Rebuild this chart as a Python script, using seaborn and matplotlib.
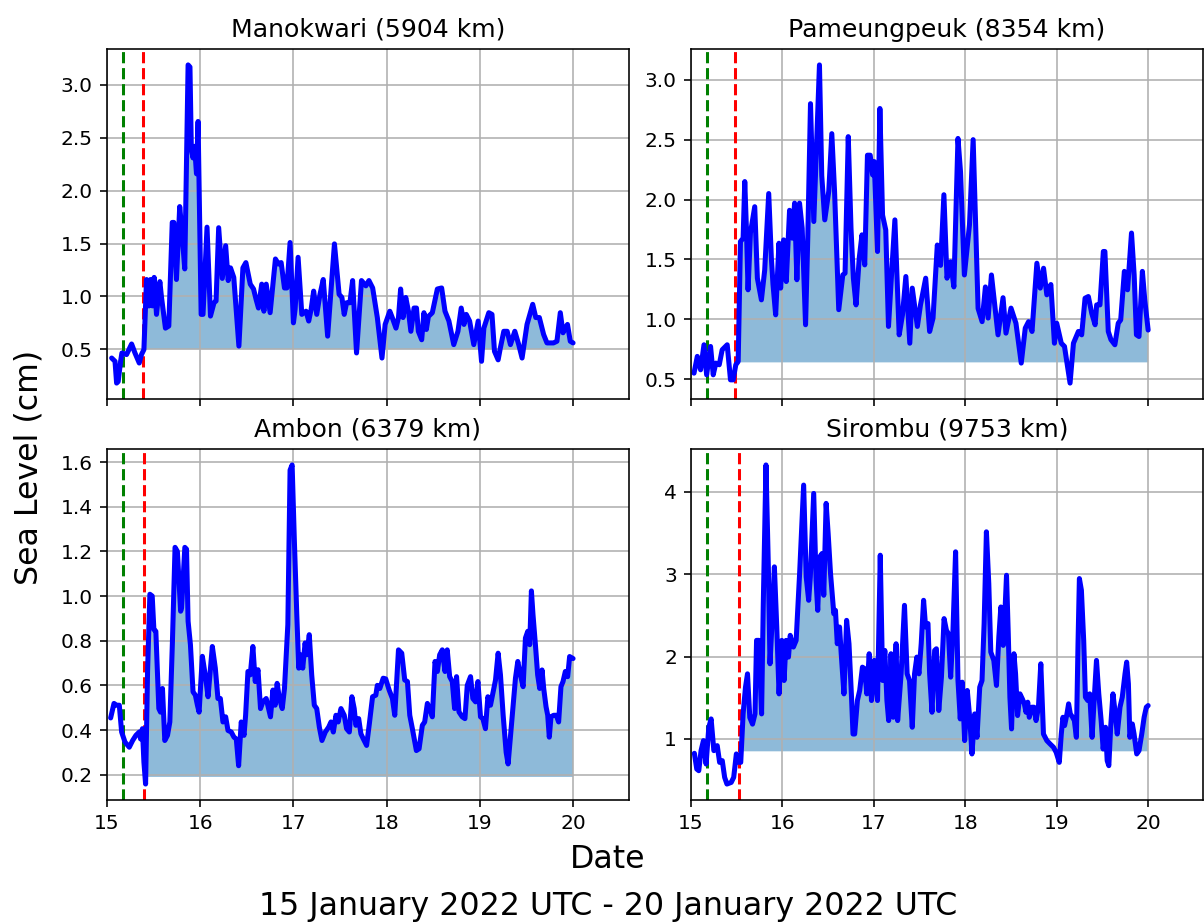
import matplotlib
matplotlib.use("Agg")
import matplotlib.pyplot as plt
import seaborn as sns
import numpy as np

# ---------------- data ----------------
stations = ["Manokwari (5904 km)", "Pameungpeuk (8354 km)", "Ambon (6379 km)", "Sirombu (9753 km)"]
eruption_time = 15.17
arrival_times = [15.39, 15.48, 15.40, 15.526]
fill_bases = [0.50, 0.64, 0.19, 0.85]
x_ticks = [15, 16, 17, 18, 19, 20]

manokwari_t = [
    15.05, 15.086, 15.103, 15.12, 15.146, 15.16, 15.21, 15.264, 15.30, 15.346,
    15.37, 15.396, 15.424, 15.45, 15.467, 15.488, 15.506, 15.531, 15.567, 15.585,
    15.627, 15.663, 15.70, 15.717, 15.745, 15.78, 15.80, 15.834, 15.87, 15.89,
    15.905, 15.923, 15.94, 15.96, 15.977, 16.01, 16.03, 16.073, 16.11, 16.148,
    16.17, 16.198, 16.237, 16.273, 16.30, 16.325, 16.36, 16.415, 16.458, 16.49,
    16.537, 16.572, 16.60, 16.625, 16.66, 16.683, 16.708, 16.75, 16.807, 16.84,
    16.868, 16.904, 16.93, 16.964, 17.0, 17.018, 17.05, 17.09, 17.135, 17.164,
    17.19, 17.217, 17.25, 17.285, 17.32, 17.367, 17.44, 17.49, 17.52, 17.545,
    17.57, 17.606, 17.635, 17.677, 17.73, 17.777, 17.81, 17.85, 17.90, 17.95,
    17.984, 18.034, 18.06, 18.10, 18.127, 18.15, 18.176, 18.205, 18.234, 18.26,
    18.294, 18.32, 18.34, 18.376, 18.40, 18.426, 18.448, 18.49, 18.544, 18.59,
    18.626, 18.668, 18.72, 18.765, 18.80, 18.83, 18.854, 18.89, 18.935, 18.982,
    19.018, 19.043, 19.096, 19.13, 19.157, 19.196, 19.22, 19.257, 19.293, 19.328,
    19.375, 19.417, 19.453, 19.506, 19.567, 19.60, 19.638, 19.684, 19.72, 19.756,
    19.79, 19.827, 19.863, 19.892, 19.917, 19.94, 19.97, 20.0]
manokwari_v = [
    0.417, 0.386, 0.18, 0.195, 0.386, 0.465, 0.45, 0.55, 0.465, 0.37,
    0.45, 0.497, 1.16, 0.91, 1.16, 0.91, 1.18, 0.83, 1.14, 0.99,
    0.70, 0.72, 1.70, 1.70, 1.16, 1.85, 1.655, 1.26, 3.19, 3.17,
    2.386, 2.31, 2.42, 2.16, 2.655, 0.83, 0.83, 1.655, 0.814, 0.94,
    0.957, 1.65, 1.17, 1.48, 1.15, 1.27, 1.18, 0.53, 1.27, 1.32,
    1.116, 1.07, 0.97, 0.89, 1.116, 0.86, 1.116, 0.846, 1.354, 1.306,
    1.32, 1.08, 1.08, 1.51, 0.75, 0.878, 1.37, 0.83, 0.86, 0.767,
    0.878, 1.05, 0.83, 1.02, 1.16, 0.624, 1.497, 1.02, 0.99, 0.83,
    0.94, 0.94, 1.15, 0.465, 1.15, 1.10, 1.15, 1.08, 0.80, 0.417,
    0.735, 0.86, 0.80, 0.70, 0.80, 1.07, 0.80, 0.99, 0.86, 0.67,
    0.89, 0.89, 0.67, 0.59, 0.846, 0.687, 0.81, 0.846, 1.07, 1.08,
    0.86, 0.767, 0.544, 0.67, 0.89, 0.735, 0.83, 0.767, 0.544, 0.767,
    0.386, 0.70, 0.846, 0.83, 0.48, 0.40, 0.513, 0.67, 0.67, 0.544,
    0.67, 0.544, 0.417, 0.735, 0.925, 0.80, 0.80, 0.64, 0.56, 0.56,
    0.56, 0.576, 0.846, 0.656, 0.70, 0.735, 0.576, 0.56]

pameungpeuk_t = [
    15.033, 15.069, 15.105, 15.142, 15.171, 15.214, 15.243, 15.272, 15.309, 15.341,
    15.396, 15.432, 15.461, 15.49, 15.516, 15.541, 15.57, 15.588, 15.606, 15.624,
    15.65, 15.697, 15.726, 15.77, 15.806, 15.85, 15.879, 15.897, 15.926, 15.962,
    15.98, 16.013, 16.042, 16.078, 16.108, 16.133, 16.158, 16.187, 16.216, 16.253,
    16.278, 16.307, 16.343, 16.405, 16.43, 16.463, 16.507, 16.54, 16.57, 16.616,
    16.66, 16.685, 16.72, 16.75, 16.776, 16.805, 16.84, 16.87, 16.9, 16.93,
    16.96, 16.986, 17.004, 17.04, 17.066, 17.095, 17.13, 17.16, 17.19, 17.23,
    17.277, 17.313, 17.35, 17.393, 17.42, 17.476, 17.51, 17.567, 17.61, 17.647,
    17.694, 17.73, 17.766, 17.80, 17.84, 17.875, 17.92, 17.948, 17.99, 18.046,
    18.086, 18.14, 18.184, 18.22, 18.25, 18.286, 18.322, 18.358, 18.413, 18.445,
    18.50, 18.554, 18.612, 18.656, 18.692, 18.73, 18.783, 18.82, 18.856, 18.892,
    18.936, 18.975, 19.0, 19.05, 19.085, 19.146, 19.183, 19.237, 19.273, 19.31,
    19.346, 19.383, 19.42, 19.437, 19.473, 19.51, 19.527, 19.564, 19.593, 19.636,
    19.673, 19.70, 19.74, 19.775, 19.818, 19.847, 19.872, 19.90, 19.937, 19.963,
    20.0]
pameungpeuk_v = [
    0.55, 0.69, 0.578, 0.787, 0.536, 0.773, 0.536, 0.634, 0.62, 0.745,
    0.787, 0.494, 0.494, 0.62, 0.647, 1.649, 1.677, 2.15, 1.76, 1.246,
    1.72, 1.94, 1.343, 1.162, 1.41, 2.05, 1.51, 1.29, 1.037, 1.635,
    1.26, 1.663, 1.315, 1.91, 1.677, 1.97, 1.33, 1.97, 1.76, 0.954,
    1.705, 2.80, 1.816, 3.124, 2.2, 1.83, 2.07, 2.55, 2.07, 1.08,
    1.37, 1.385, 2.525, 1.76, 1.343, 1.12, 1.51, 1.705, 1.454, 2.37,
    2.37, 2.206, 2.317, 1.566, 2.76, 1.87, 1.746, 0.94, 1.33, 1.83,
    0.87, 1.037, 1.357, 0.80, 1.26, 0.94, 1.12, 1.343, 0.898, 1.009,
    1.62, 1.45, 2.04, 1.343, 1.48, 1.27, 2.51, 2.23, 1.37, 1.79,
    2.50, 1.09, 0.98, 1.27, 1.01, 1.37, 1.12, 0.87, 1.18, 0.884,
    1.093, 0.967, 0.634, 0.926, 0.98, 0.898, 1.468, 1.26, 1.426, 1.204,
    1.29, 0.80, 0.967, 0.80, 0.773, 0.467, 0.80, 0.898, 0.87, 1.176,
    1.19, 1.05, 0.954, 1.12, 1.12, 1.566, 1.566, 0.898, 0.83, 0.787,
    0.967, 0.995, 1.40, 1.246, 1.72, 1.37, 0.87, 0.856, 1.40, 1.162,
    0.91]

ambon_t = [
    15.039, 15.075, 15.103, 15.132, 15.157, 15.193, 15.239, 15.275, 15.31, 15.346,
    15.36, 15.38, 15.396, 15.414, 15.435, 15.46, 15.485, 15.503, 15.524, 15.556,
    15.574, 15.595, 15.62, 15.649, 15.674, 15.702, 15.73, 15.755, 15.79, 15.80,
    15.835, 15.853, 15.87, 15.895, 15.923, 15.948, 15.97, 15.988, 16.023, 16.059,
    16.084, 16.13, 16.162, 16.19, 16.216, 16.244, 16.273, 16.298, 16.333, 16.362,
    16.387, 16.412, 16.44, 16.47, 16.487, 16.512, 16.537, 16.565, 16.59, 16.62,
    16.647, 16.672, 16.708, 16.733, 16.754, 16.78, 16.804, 16.825, 16.85, 16.88,
    16.904, 16.94, 16.964, 16.986, 17.01, 17.036, 17.057, 17.075, 17.1, 17.125,
    17.143, 17.17, 17.196, 17.224, 17.25, 17.278, 17.306, 17.342, 17.378, 17.403,
    17.428, 17.456, 17.48, 17.51, 17.545, 17.57, 17.6, 17.627, 17.652, 17.67,
    17.7, 17.724, 17.75, 17.785, 17.815, 17.849, 17.884, 17.9, 17.927, 17.963,
    17.99, 18.027, 18.062, 18.087, 18.127, 18.162, 18.194, 18.223, 18.248, 18.276,
    18.319, 18.348, 18.383, 18.408, 18.437, 18.462, 18.49, 18.519, 18.544, 18.569,
    18.597, 18.626, 18.65, 18.676, 18.704, 18.729, 18.75, 18.776, 18.811, 18.84,
    18.865, 18.9, 18.925, 18.954, 18.979, 19.007, 19.032, 19.06, 19.086, 19.114,
    19.139, 19.168, 19.196, 19.221, 19.25, 19.282, 19.303, 19.328, 19.357, 19.382,
    19.407, 19.435, 19.464, 19.489, 19.514, 19.535, 19.553, 19.57, 19.596, 19.62,
    19.642, 19.667, 19.685, 19.71, 19.728, 19.745, 19.763, 19.792, 19.82, 19.845,
    19.87, 19.892, 19.917, 19.942, 19.963, 20.0]
ambon_v = [
    0.454, 0.519, 0.511, 0.511, 0.391, 0.346, 0.323, 0.353, 0.376, 0.391,
    0.36, 0.406, 0.256, 0.158, 0.66, 1.008, 1.0, 0.85, 0.842, 0.496,
    0.48, 0.586, 0.353, 0.376, 0.436, 0.797, 1.218, 1.20, 0.932, 0.947,
    1.218, 1.21, 0.887, 0.782, 0.571, 0.556, 0.511, 0.48, 0.73, 0.632,
    0.549, 0.774, 0.677, 0.541, 0.541, 0.436, 0.459, 0.398, 0.391, 0.368,
    0.36, 0.24, 0.436, 0.376, 0.466, 0.662, 0.647, 0.774, 0.617, 0.67,
    0.496, 0.526, 0.541, 0.496, 0.459, 0.579, 0.511, 0.609, 0.541, 0.496,
    0.586, 0.872, 1.564, 1.587, 1.248, 0.917, 0.677, 0.737, 0.677, 0.79,
    0.737, 0.827, 0.647, 0.511, 0.496, 0.413, 0.353, 0.391, 0.413, 0.436,
    0.391, 0.466, 0.436, 0.496, 0.466, 0.406, 0.391, 0.549, 0.496, 0.421,
    0.451, 0.383, 0.36, 0.331, 0.43, 0.549, 0.556, 0.60, 0.586, 0.632,
    0.629, 0.579, 0.541, 0.466, 0.759, 0.744, 0.624, 0.617, 0.466, 0.406,
    0.308, 0.316, 0.421, 0.436, 0.519, 0.496, 0.459, 0.707, 0.662, 0.737,
    0.759, 0.662, 0.759, 0.639, 0.617, 0.496, 0.639, 0.481, 0.459, 0.451,
    0.60, 0.639, 0.541, 0.526, 0.617, 0.459, 0.451, 0.406, 0.549, 0.511,
    0.564, 0.624, 0.744, 0.647, 0.466, 0.30, 0.248, 0.368, 0.504, 0.632,
    0.707, 0.647, 0.594, 0.812, 0.842, 0.782, 1.023, 0.917, 0.782, 0.647,
    0.586, 0.669, 0.586, 0.504, 0.466, 0.368, 0.459, 0.466, 0.466, 0.436,
    0.594, 0.617, 0.662, 0.639, 0.729, 0.72]

sirombu_t = [
    15.037, 15.063, 15.085, 15.11, 15.136, 15.165, 15.195, 15.22, 15.25, 15.287,
    15.313, 15.342, 15.368, 15.393, 15.44, 15.467, 15.496, 15.526, 15.544, 15.57,
    15.596, 15.618, 15.643, 15.673, 15.70, 15.717, 15.743, 15.772, 15.79, 15.82,
    15.846, 15.864, 15.893, 15.912, 15.938, 15.963, 15.993, 16.018, 16.04, 16.066,
    16.085, 16.12, 16.15, 16.188, 16.232, 16.26, 16.287, 16.305, 16.342, 16.368,
    16.386, 16.408, 16.434, 16.452, 16.478, 16.50, 16.526, 16.562, 16.58, 16.60,
    16.625, 16.643, 16.673, 16.702, 16.728, 16.754, 16.772, 16.79, 16.82, 16.845,
    16.875, 16.90, 16.923, 16.949, 16.974, 17.004, 17.04, 17.07, 17.096, 17.12,
    17.143, 17.162, 17.188, 17.213, 17.243, 17.26, 17.298, 17.335, 17.364, 17.39,
    17.42, 17.445, 17.47, 17.493, 17.518, 17.544, 17.566, 17.592, 17.61, 17.636,
    17.665, 17.684, 17.71, 17.739, 17.768, 17.794, 17.816, 17.84, 17.864, 17.894,
    17.92, 17.945, 17.967, 17.993, 18.022, 18.048, 18.073, 18.103, 18.128, 18.158,
    18.183, 18.206, 18.231, 18.257, 18.279, 18.312, 18.341, 18.367, 18.389, 18.415,
    18.433, 18.451, 18.47, 18.488, 18.506, 18.532, 18.55, 18.572, 18.598, 18.624,
    18.646, 18.664, 18.683, 18.70, 18.727, 18.752, 18.774, 18.80, 18.826, 18.855,
    18.892, 18.928, 18.965, 18.994, 19.028, 19.05, 19.068, 19.086, 19.112, 19.13,
    19.149, 19.174, 19.193, 19.215, 19.233, 19.248, 19.27, 19.295, 19.314, 19.34,
    19.361, 19.387, 19.405, 19.435, 19.46, 19.486, 19.508, 19.534, 19.552, 19.57,
    19.59, 19.615, 19.637, 19.662, 19.692, 19.717, 19.747, 19.765, 19.784, 19.80,
    19.827, 19.846, 19.875, 19.90, 19.93, 19.956, 19.98, 20.0]
sirombu_v = [
    0.826, 0.635, 0.615, 0.858, 0.98, 0.696, 1.142, 1.243, 0.858, 0.919,
    0.716, 0.737, 0.534, 0.453, 0.473, 0.534, 0.818, 0.716, 0.716, 1.304,
    1.628, 1.79, 1.26, 1.18, 1.304, 2.196, 2.196, 1.304, 2.60, 4.324,
    3.088, 1.912, 2.56, 3.088, 2.358, 1.547, 2.196, 1.709, 2.196, 1.993,
    2.257, 2.115, 2.196, 3.007, 4.08, 2.966, 2.682, 2.966, 3.979, 2.925,
    2.56, 3.209, 3.25, 2.743, 3.858, 3.493, 3.007, 2.52, 2.56, 2.155,
    2.358, 2.034, 1.547, 2.439, 2.155, 1.547, 1.06, 1.06, 1.466, 1.588,
    1.871, 1.851, 1.547, 2.034, 1.466, 1.953, 1.466, 3.229, 1.709, 2.074,
    1.466, 1.223, 2.034, 1.263, 2.155, 1.223, 1.79, 2.621, 1.79, 1.709,
    1.142, 1.79, 1.993, 1.79, 2.155, 2.682, 2.358, 2.40, 1.79, 1.324,
    2.074, 2.094, 1.345, 1.75, 2.46, 2.317, 2.277, 1.75, 2.277, 3.27,
    1.709, 1.243, 1.689, 0.98, 1.588, 1.263, 0.818, 1.304, 1.02, 1.628,
    1.709, 2.40, 3.513, 2.885, 2.054, 1.953, 1.649, 2.236, 2.601, 2.135,
    2.52, 2.986, 2.277, 1.507, 1.122, 2.034, 1.79, 1.284, 1.547, 1.486,
    1.426, 1.324, 1.446, 1.263, 1.385, 1.385, 1.223, 1.385, 1.912, 1.06,
    0.98, 0.939, 0.899, 0.838, 0.716, 1.06, 1.263, 1.162, 1.304, 1.426,
    1.304, 1.263, 1.223, 1.02, 2.155, 2.946, 2.804, 2.196, 1.507, 1.466,
    1.547, 1.02, 1.385, 1.953, 1.547, 1.223, 0.878, 1.142, 0.737, 0.676,
    1.142, 1.547, 1.345, 1.06, 1.385, 1.507, 1.79, 1.932, 1.669, 1.02,
    1.182, 1.06, 0.818, 0.858, 1.06, 1.263, 1.385, 1.405]

series_t = [manokwari_t, pameungpeuk_t, ambon_t, sirombu_t]
series_v = [manokwari_v, pameungpeuk_v, ambon_v, sirombu_v]

# ---------------- figure ----------------
W, H, DPI = 1204, 924, 145
fig = plt.figure(figsize=(W / DPI, H / DPI), dpi=DPI)

def frac(l, t, r, b):
    return [l / W, 1 - b / H, (r - l) / W, (b - t) / H]

positions = [frac(107, 49, 629, 399), frac(691, 49, 1203, 399),
             frac(107, 449, 629, 800), frac(691, 449, 1203, 800)]

axes = []
for i, pos in enumerate(positions):
    ax = fig.add_axes(pos)
    if axes:
        ax.sharex(axes[0])
    axes.append(ax)

for i, ax in enumerate(axes):
    t = np.asarray(series_t[i], dtype=float)
    v = np.asarray(series_v[i], dtype=float)
    assert len(t) == len(v), (i, len(t), len(v))
    arr = arrival_times[i]
    base = fill_bases[i]

    ax.axvline(eruption_time, color="green", linestyle="--", linewidth=1.5)
    ax.axvline(arr, color="red", linestyle="--", linewidth=1.5)

    mask = t > arr
    tf = np.concatenate([[arr], t[mask]])
    vf = np.concatenate([[np.interp(arr, t, v)], v[mask]])
    ax.fill_between(tf, base, vf, where=vf >= base, interpolate=True,
                    color="C0", alpha=0.5, linewidth=0)

    sns.lineplot(x=t, y=v, ax=ax, color="blue", linewidth=2.5,
                 estimator=None, sort=False, solid_joinstyle="round",
                 solid_capstyle="round")

    ax.set_title(stations[i], fontsize=12.5)
    ax.grid(True, color="#b0b0b0", linewidth=0.8)
    ax.set_xlim(15, 20.6)
    ax.set_xticks(x_ticks)
    ax.set_xlabel("")
    ax.set_ylabel("")
    ax.tick_params(labelsize=10)
    if i < 2:
        ax.tick_params(labelbottom=False)

fig.text(29 / W, 1 - 467 / H, "Sea Level (cm)", rotation=90, fontsize=15.7,
         ha="center", va="center")
fig.text(608 / W, 1 - 860 / H, "Date", fontsize=15.7, ha="center", va="center")
fig.text(608 / W, 1 - 906 / H, "15 January 2022 UTC - 20 January 2022 UTC",
         fontsize=15.7, ha="center", va="center")

fig.savefig("out.png", dpi=DPI)
